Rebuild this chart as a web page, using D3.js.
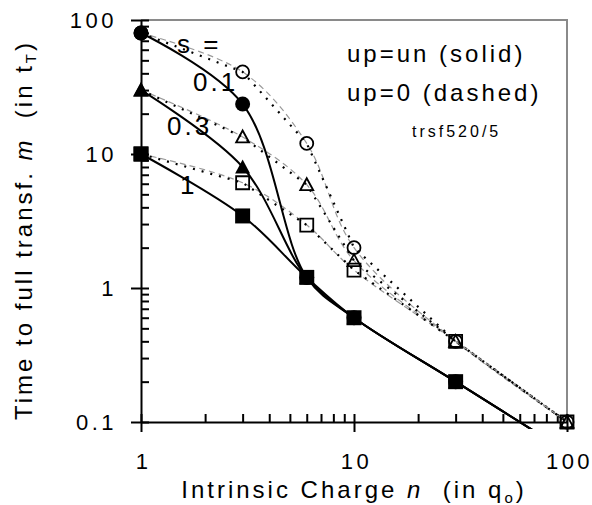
<!DOCTYPE html>
<html>
<head>
<meta charset="utf-8">
<script src="https://cdnjs.cloudflare.com/ajax/libs/d3/7.8.5/d3.min.js"></script>
<style>
body { margin: 0; background: #fff; }
text { font-family: "Liberation Sans", Arial, sans-serif; fill: #000; }
</style>
</head>
<body>
<div class="box"></div>
<script>
// charges n (in qo)
const charges = [1, 3, 6, 10, 30, 100];

// up=un (solid)
const solid01 = [80, 23.6, 1.2, 0.6, 0.2, 0.06];
const solid03 = [30, 8.0, 1.2, 0.6, 0.2, 0.06];
const solid1 = [10, 3.45, 1.2, 0.6, 0.2, 0.06];

// up=0 (dashed)
const dashed01 = [80, 41, 12, 2.0, 0.4, 0.1];
const dashed03 = [30, 13.4, 5.9, 1.6, 0.4, 0.1];
const dashed1 = [10, 6.1, 2.95, 1.36, 0.4, 0.1];

const xTicks = [1, 10, 100];
const yTicks = [0.1, 1, 10, 100];

const dims = {width: 592, height: 505, left: 141, right: 567, top: 20, bottom: 422};

const svg = d3.select('.box')
              .append('svg')
              .attr('width', dims.width)
              .attr('height', dims.height);

const x = d3.scaleLog().domain([1, 100]).range([dims.left, dims.right]);
const y = d3.scaleLog().domain([0.1, 100]).range([dims.bottom, dims.top]);

// petites graduations log
const minors = (lo, hi) => {
    const out = [];
    for (let d = lo; d < hi; d *= 10) {
        for (let k = 1; k <= 9; k++) out.push(+(d * k).toPrecision(3));
    }
    out.push(hi);
    return out;
};

// cadre gris (haut + droite)
svg.append('path')
   .attr('d', `M${dims.left},${dims.top}H${dims.right}V${dims.bottom}`)
   .attr('fill', 'none')
   .attr('stroke', '#8a8a8a')
   .attr('stroke-width', 2);

// axes
const styleAxis = g => {
    g.selectAll('line, path').attr('stroke', '#000').attr('stroke-width', 2);
    g.selectAll('text')
     .style('font-family', '"Liberation Sans", Arial, sans-serif')
     .style('font-size', '22px')
     .style('letter-spacing', '3.5px')
     .attr('fill', '#000');
};

svg.append('g')
   .attr('transform', `translate(0, ${dims.bottom})`)
   .call(d3.axisBottom(x).tickValues(minors(1, 100)).tickSize(-8).tickFormat(''))
   .call(g => g.select('.domain').remove())
   .call(styleAxis);

svg.append('g')
   .attr('transform', `translate(0, ${dims.bottom})`)
   .call(d3.axisBottom(x).tickValues(xTicks).tickSizeInner(10).tickSizeOuter(0)
           .tickPadding(21).tickFormat(d3.format('')))
   .call(styleAxis)
   .call(g => g.selectAll('text').attr('dx', '2px'));

svg.append('g')
   .attr('transform', `translate(${dims.left}, 0)`)
   .call(d3.axisLeft(y).tickValues(minors(0.1, 100)).tickSize(-8).tickFormat(''))
   .call(g => g.select('.domain').remove())
   .call(styleAxis);

svg.append('g')
   .attr('transform', `translate(${dims.left}, 0)`)
   .call(d3.axisLeft(y).tickValues(yTicks).tickSizeInner(10).tickSizeOuter(0)
           .tickPadding(14).tickFormat(d3.format('')))
   .call(styleAxis);

// series
const series = [
    {vals: dashed01, marker: 'circle', filled: false, dashed: true},
    {vals: dashed03, marker: 'triangle', filled: false, dashed: true},
    {vals: dashed1, marker: 'square', filled: false, dashed: true},
    {vals: solid01, marker: 'circle', filled: true, dashed: false},
    {vals: solid03, marker: 'triangle', filled: true, dashed: false},
    {vals: solid1, marker: 'square', filled: true, dashed: false}
];

svg.append('clipPath').attr('id', 'plot')
   .append('rect')
   .attr('x', dims.left - 10).attr('y', 0)
   .attr('width', dims.right - dims.left + 20).attr('height', dims.bottom + 7);

const pts = s => s.vals.map((v, i) => [charges[i], v]);

const smooth = d3.line().x(d => x(d[0])).y(d => y(d[1])).curve(d3.curveCatmullRom.alpha(0.5));
const straight = d3.line().x(d => x(d[0])).y(d => y(d[1]));

const lines = svg.append('g').attr('clip-path', 'url(#plot)');

// up=0 : gris lissé + pointillé noir droit
series.filter(s => s.dashed).forEach(s => {
    lines.append('path')
         .attr('d', smooth(pts(s)))
         .attr('fill', 'none')
         .attr('stroke', '#9a9a9a')
         .attr('stroke-width', 1.2)
         .attr('stroke-dasharray', '6,4');
    lines.append('path')
         .attr('d', straight(pts(s)))
         .attr('fill', 'none')
         .attr('stroke', '#000')
         .attr('stroke-width', 2.2)
         .attr('stroke-dasharray', '2,7');
});

// up=un : noir lissé
series.filter(s => !s.dashed).forEach(s => {
    lines.append('path')
         .attr('d', smooth(pts(s)))
         .attr('fill', 'none')
         .attr('stroke', '#000')
         .attr('stroke-width', 2);
});

// marqueurs
const shape = (m, filled) => {
    const a = filled ? 7.5 : 6.5;
    if (m === 'circle') return d3.path().arc ? `M${a},0A${a},${a} 0 1,1 ${-a},0A${a},${a} 0 1,1 ${a},0Z` : '';
    if (m === 'triangle') return `M0,${-a}L${a},${a - 1}L${-a},${a - 1}Z`;
    return `M${-a},${-a}H${a}V${a}H${-a}Z`;
};

const order = ['circle', 'triangle', 'square'];
[false, true].forEach(filled => {
    order.forEach(m => {
        series.filter(s => s.filled === filled && s.marker === m).forEach(s => {
            svg.append('g')
               .selectAll('path')
               .data(pts(s).filter(d => d[1] >= 0.099))
               .enter()
               .append('path')
               .attr('transform', d => `translate(${x(d[0])}, ${y(d[1])})`)
               .attr('d', shape(m, filled))
               .attr('fill', filled ? '#000' : 'none')
               .attr('stroke', '#000')
               .attr('stroke-width', filled ? 0 : 1.8);
        });
    });
});

// étiquettes s
const lab = (txt, px, py, size) => svg.append('text')
    .attr('x', px).attr('y', py)
    .style('font-size', size + 'px')
    .style('letter-spacing', '3px')
    .text(txt);

lab('s =', 177, 53, 26);
lab('0.1', 193, 91, 26);
lab('0.3', 167, 135, 26);
lab('1', 180, 194, 26);

lab('up=un (solid)', 347, 62, 24);
lab('up=0 (dashed)', 347, 101, 24);
lab('trsf520/5', 412, 137, 16);

// titres
const xt = svg.append('text')
   .attr('x', 354).attr('y', 498)
   .attr('text-anchor', 'middle')
   .style('font-size', '24px')
   .style('letter-spacing', '3px');
xt.append('tspan').text('Intrinsic Charge ');
xt.append('tspan').style('font-style', 'italic').text('n');
xt.append('tspan').text('\u00a0 (in q');
xt.append('tspan').attr('dy', 5).style('font-size', '15px').text('o');
xt.append('tspan').attr('dy', -5).text(')');

const yt = svg.append('text')
   .attr('transform', 'translate(32, 230) rotate(-90)')
   .attr('text-anchor', 'middle')
   .style('font-size', '24px')
   .style('letter-spacing', '3px');
yt.append('tspan').text('Time to full transf. ');
yt.append('tspan').style('font-style', 'italic').text('m');
yt.append('tspan').text('\u00a0 (in t');
yt.append('tspan').attr('dy', 4).style('font-size', '15px').text('T');
yt.append('tspan').attr('dy', -4).text(')');
</script>
</body>
</html>
